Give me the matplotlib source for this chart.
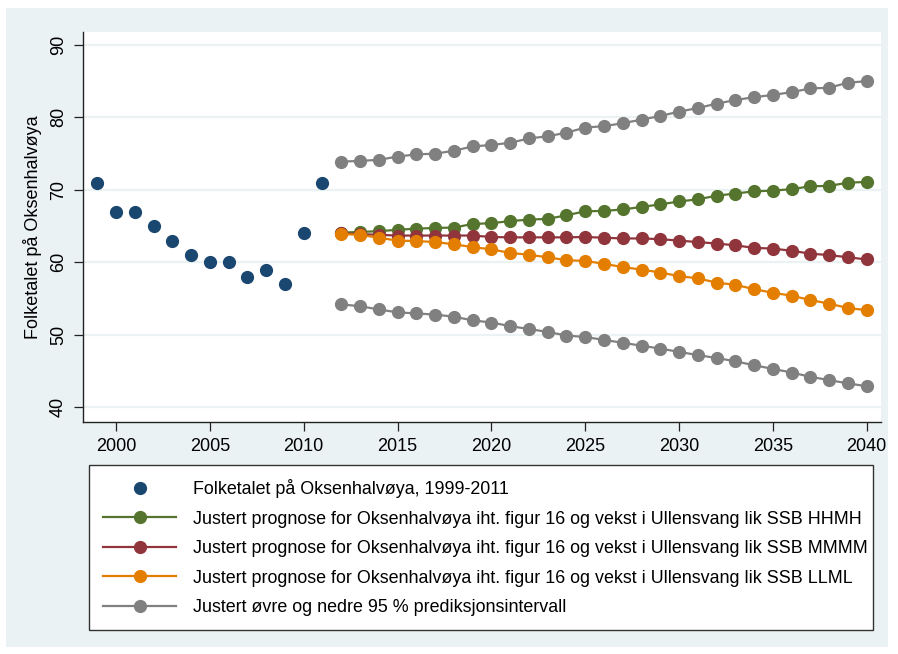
import numpy as np
import matplotlib
matplotlib.use("Agg")
from matplotlib import pyplot as plt
from matplotlib.patches import Rectangle

plt.rcParams['font.family'] = ['Liberation Sans', 'DejaVu Sans']

# observed population
obs_years = list(range(1999, 2012))
obs_vals = [71, 67, 67, 65, 63, 61, 60, 60, 58, 59, 57, 64, 71]

# adjusted forecasts 2012-2040
fc_years = list(range(2012, 2041))
hhmh = [64.1, 64.2, 64.3, 64.5, 64.65, 64.75, 64.8, 65.3, 65.4, 65.7, 65.9, 66.0, 66.5, 67.05, 67.1,
        67.3, 67.65, 68.0, 68.4, 68.7, 69.2, 69.5, 69.8, 69.9, 70.1, 70.5, 70.55, 71.0, 71.1]
mmmm = [64.0, 63.9, 63.8, 63.7, 63.7, 63.7, 63.7, 63.7, 63.5, 63.45, 63.45, 63.45, 63.45, 63.5, 63.4,
        63.3, 63.3, 63.2, 63.0, 62.8, 62.6, 62.35, 62.0, 61.9, 61.6, 61.2, 61.0, 60.7, 60.4]
llml = [63.9, 63.8, 63.4, 63.0, 62.95, 62.8, 62.5, 62.1, 61.8, 61.3, 61.05, 60.7, 60.3, 60.2, 59.8,
        59.35, 59.0, 58.6, 58.1, 57.8, 57.2, 56.9, 56.3, 55.8, 55.4, 54.8, 54.3, 53.7, 53.4]
upper = [73.9, 74.0, 74.15, 74.6, 74.9, 75.0, 75.4, 76.0, 76.2, 76.5, 77.1, 77.4, 77.9, 78.6, 78.8,
         79.2, 79.7, 80.2, 80.8, 81.3, 81.9, 82.4, 82.8, 83.1, 83.5, 84.0, 84.1, 84.8, 85.0]
lower = [54.2, 53.95, 53.5, 53.1, 52.95, 52.8, 52.5, 52.0, 51.7, 51.2, 50.8, 50.4, 49.9, 49.7, 49.3,
         48.9, 48.5, 48.1, 47.65, 47.2, 46.8, 46.35, 45.8, 45.3, 44.8, 44.2, 43.75, 43.3, 42.9]

labels = [
    'Folketalet på Oksenhalvøya, 1999-2011',
    'Justert prognose for Oksenhalvøya iht. figur 16 og vekst i Ullensvang lik SSB HHMH',
    'Justert prognose for Oksenhalvøya iht. figur 16 og vekst i Ullensvang lik SSB MMMM',
    'Justert prognose for Oksenhalvøya iht. figur 16 og vekst i Ullensvang lik SSB LLML',
    'Justert øvre og nedre 95 % prediksjonsintervall',
]

navy = '#1A476F'
green = '#55752F'
maroon = '#90353B'
orange = '#E37E00'
gray = '#808080'
bg = '#EAF2F3'

fig = plt.figure(figsize=(8.98, 6.54), dpi=100, facecolor='white')
fig.patches.append(Rectangle((6 / 898, 7 / 654), 882 / 898, 639 / 654, transform=fig.transFigure,
                             facecolor=bg, edgecolor='none', zorder=-10))

ax = fig.add_axes([83 / 898, 1 - 422 / 654, 798 / 898, 390 / 654])
ax.set_facecolor('white')

ms = 8.5
lw = 1.6
h0, = ax.plot(obs_years, obs_vals, 'o', color=navy, ms=ms, ls='none', zorder=3)
h1, = ax.plot(fc_years, hhmh, '-o', color=green, ms=ms, lw=lw, zorder=3)
h2, = ax.plot(fc_years, mmmm, '-o', color=maroon, ms=ms, lw=lw, zorder=3)
h3, = ax.plot(fc_years, llml, '-o', color=orange, ms=ms, lw=lw, zorder=3)
h4, = ax.plot(fc_years, upper, '-o', color=gray, ms=ms, lw=lw, zorder=3)
ax.plot(fc_years, lower, '-o', color=gray, ms=ms, lw=lw, zorder=3)

ax.set_xlim(1998.24, 2040.76)
ax.set_ylim(37.97, 91.79)
ax.set_xticks(range(2000, 2041, 5))
ax.set_yticks(range(40, 91, 10))
ax.grid(axis='y', color=bg, lw=1.6, zorder=0)
ax.set_axisbelow(True)
for s in ['top', 'right']:
    ax.spines[s].set_visible(False)
for s in ['left', 'bottom']:
    ax.spines[s].set_color('#222222')
    ax.spines[s].set_linewidth(1.0)
ax.tick_params(axis='both', length=6.5, width=0.9, color='#222222', labelsize=13)
ax.tick_params(axis='y', pad=5, labelrotation=90)
ax.tick_params(axis='x', pad=5)
for t in ax.get_yticklabels():
    t.set_va('center')

fig.text(33 / 898, 1 - 227 / 654, 'Folketalet på Oksenhalvøya', rotation=90,
         ha='center', va='center', fontsize=13)

leg = fig.legend([h0, h1, h2, h3, h4], labels, loc='upper left',
                 bbox_to_anchor=(89 / 898, 23 / 654, 784 / 898, 166 / 654),
                 mode='expand', borderaxespad=0, fontsize=12.9, handlelength=4.1,
                 handletextpad=0.95, labelspacing=0.7, borderpad=0.78, fancybox=False,
                 framealpha=1, edgecolor='#333333', facecolor='white')
leg.get_frame().set_linewidth(1.0)

fig.savefig('out.png', dpi=100, facecolor='white')
